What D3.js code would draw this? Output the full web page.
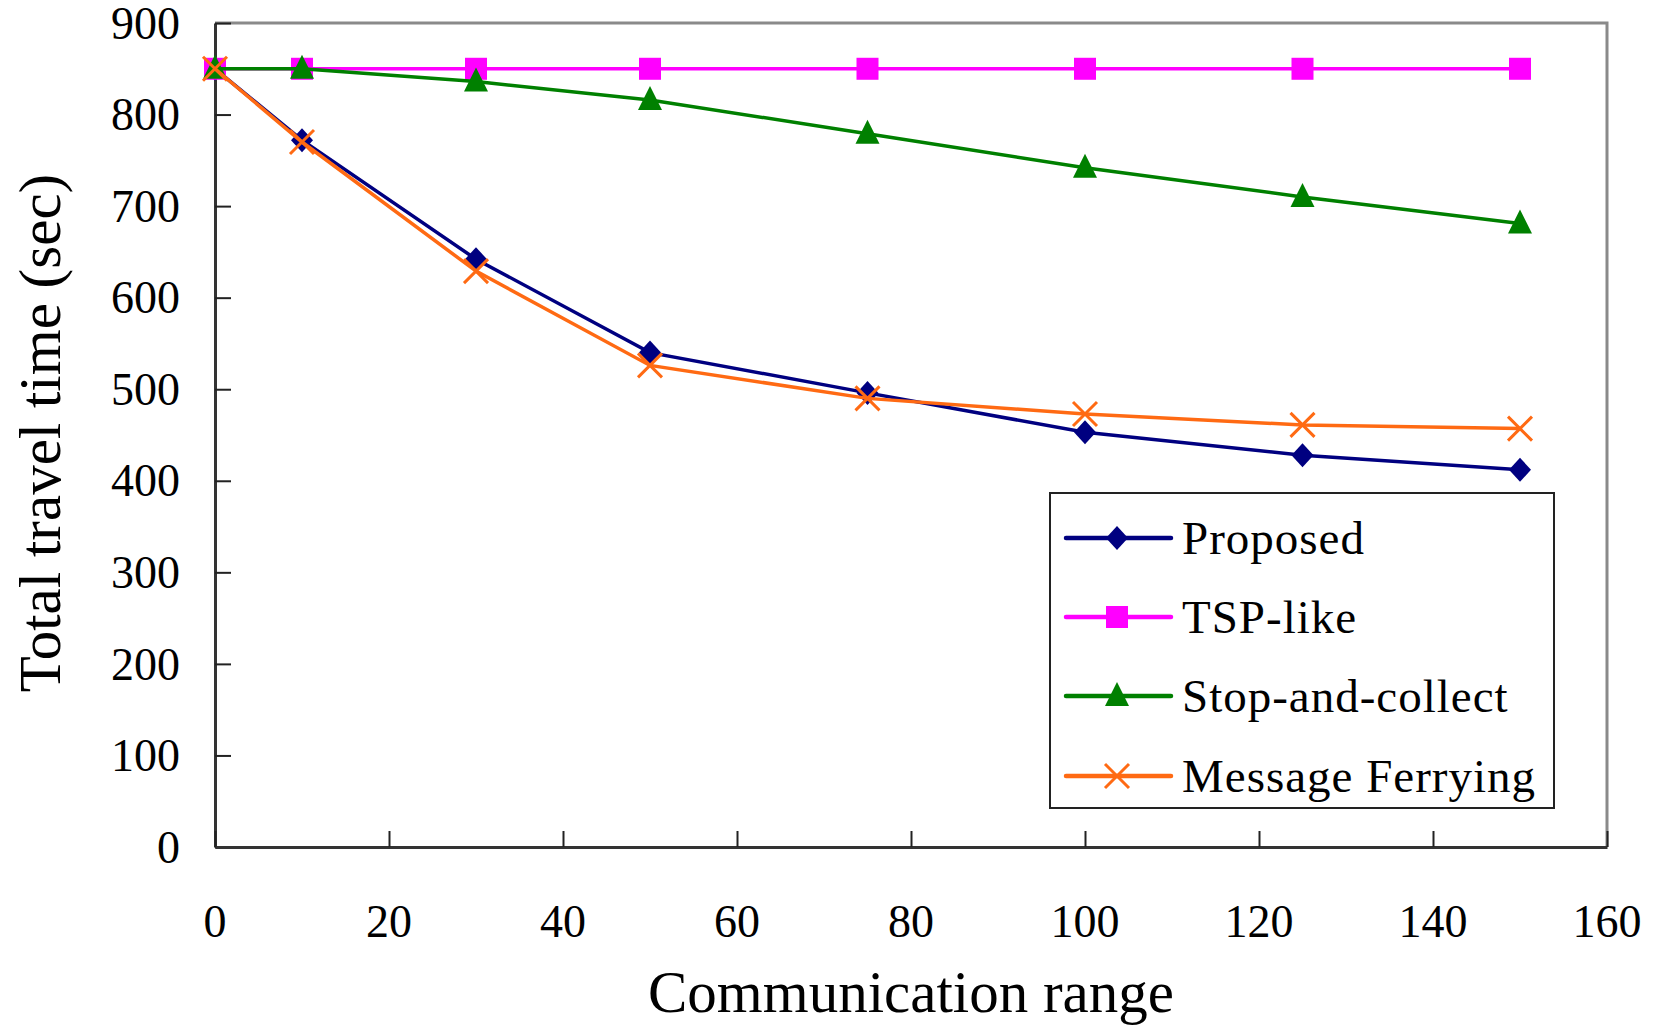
<!DOCTYPE html>
<html>
<head>
<meta charset="utf-8">
<script src="https://cdn.jsdelivr.net/npm/d3@7"></script>
<style>
  body { margin: 0; background: #fff; }
  text { font-family: "Liberation Serif", "Times New Roman", serif; fill: #000; }
</style>
</head>
<body>
<div id="chart"></div>
<script>
var ranges = [0, 10, 30, 50, 75, 100, 125, 150];
var proposed = [850, 772, 642, 540, 496, 453, 428, 412];
var tspLike = [850, 850, 850, 850, 850, 850, 850, 850];
var stopCollect = [850, 850, 836, 816, 779, 742, 710, 681];
var msgFerry = [850, 770, 629, 526, 490, 473, 461, 457];
var seriesNames = ["Proposed", "TSP-like", "Stop-and-collect", "Message Ferrying"];
var xTicks = [0, 20, 40, 60, 80, 100, 120, 140, 160];
var yTicks = [0, 100, 200, 300, 400, 500, 600, 700, 800, 900];

var series = [
  { name: seriesNames[0], values: proposed, color: "#000080", marker: "diamond" },
  { name: seriesNames[1], values: tspLike, color: "#ff00ff", marker: "square" },
  { name: seriesNames[2], values: stopCollect, color: "#008000", marker: "triangle" },
  { name: seriesNames[3], values: msgFerry, color: "#ff6a13", marker: "cross" }
];

var W = 1656, H = 1028;
var pLeft = 215, pRight = 1607, pTop = 23, pBottom = 847;

var svg = d3.select("#chart").append("svg")
  .attr("width", W).attr("height", H);

var x = d3.scaleLinear().domain([0, 160]).range([pLeft, pRight]);
var y = d3.scaleLinear().domain([0, 900]).range([pBottom, pTop]);

// frame: top and right in gray
svg.append("path")
  .attr("d", "M" + pLeft + "," + pTop + "H" + pRight + "V" + pBottom)
  .attr("fill", "none").attr("stroke", "#8a8a8a").attr("stroke-width", 3);

// axes with inward ticks
var yAxis = svg.append("g").attr("transform", "translate(" + pLeft + ",0)")
  .call(d3.axisRight(y).tickValues(yTicks).tickSize(16).tickSizeOuter(0).tickFormat(""));
var xAxis = svg.append("g").attr("transform", "translate(0," + pBottom + ")")
  .call(d3.axisTop(x).tickValues(xTicks).tickSize(16).tickSizeOuter(0).tickFormat(""));
[yAxis, xAxis].forEach(function (g) {
  g.select(".domain").attr("stroke", "#333").attr("stroke-width", 3);
  g.selectAll(".tick line").attr("stroke", "#222").attr("stroke-width", 2);
});

// tick labels
svg.selectAll(".ylab").data(yTicks).enter().append("text")
  .attr("class", "ylab")
  .attr("x", 180).attr("y", function (d) { return y(d); })
  .attr("dy", "0.34em")
  .attr("text-anchor", "end")
  .style("font-size", "46px")
  .text(function (d) { return d; });

svg.selectAll(".xlab").data(xTicks).enter().append("text")
  .attr("class", "xlab")
  .attr("x", function (d) { return x(d); }).attr("y", 937)
  .attr("text-anchor", "middle")
  .style("font-size", "46px")
  .text(function (d) { return d; });

// axis titles
svg.append("text")
  .attr("x", (pLeft + pRight) / 2).attr("y", 1012)
  .attr("text-anchor", "middle")
  .style("font-size", "59px")
  .text("Communication range");

svg.append("text")
  .attr("transform", "translate(60,433) rotate(-90)")
  .attr("text-anchor", "middle")
  .style("font-size", "59px")
  .text("Total travel time (sec)");

function drawMarker(g, type, color) {
  if (type === "diamond") {
    g.append("path").attr("d", "M0,-12L11,0L0,12L-11,0Z").attr("fill", color);
  } else if (type === "square") {
    g.append("rect").attr("x", -11).attr("y", -11).attr("width", 22).attr("height", 22).attr("fill", color);
  } else if (type === "triangle") {
    g.append("path").attr("d", "M0,-14L12,10L-12,10Z").attr("fill", color);
  } else {
    g.append("path").attr("d", "M-12,-12L12,12M-12,12L12,-12")
      .attr("stroke", color).attr("stroke-width", 3).attr("fill", "none");
  }
}

var line = d3.line()
  .x(function (d, i) { return x(ranges[i]); })
  .y(function (d) { return y(d); });

series.forEach(function (s) {
  var g = svg.append("g");
  g.append("path").attr("d", line(s.values))
    .attr("fill", "none").attr("stroke", s.color).attr("stroke-width", 3.5);
  s.values.forEach(function (v, i) {
    var m = g.append("g").attr("transform", "translate(" + x(ranges[i]) + "," + y(v) + ")");
    drawMarker(m, s.marker, s.color);
  });
});

// legend
var lg = svg.append("g");
lg.append("rect").attr("x", 1050).attr("y", 493).attr("width", 504).attr("height", 315)
  .attr("fill", "#fff").attr("stroke", "#222").attr("stroke-width", 2);
var rowY = [538, 617, 696, 776];
series.forEach(function (s, i) {
  lg.append("line").attr("x1", 1066).attr("x2", 1171).attr("y1", rowY[i]).attr("y2", rowY[i])
    .attr("stroke", s.color).attr("stroke-width", 4.5).attr("stroke-linecap", "round");
  drawMarker(lg.append("g").attr("transform", "translate(1117," + rowY[i] + ")"), s.marker, s.color);
  lg.append("text").attr("x", 1182).attr("y", rowY[i]).attr("dy", "0.34em")
    .style("font-size", "47px").style("letter-spacing", "1px")
    .text(s.name);
});
</script>
</body>
</html>
